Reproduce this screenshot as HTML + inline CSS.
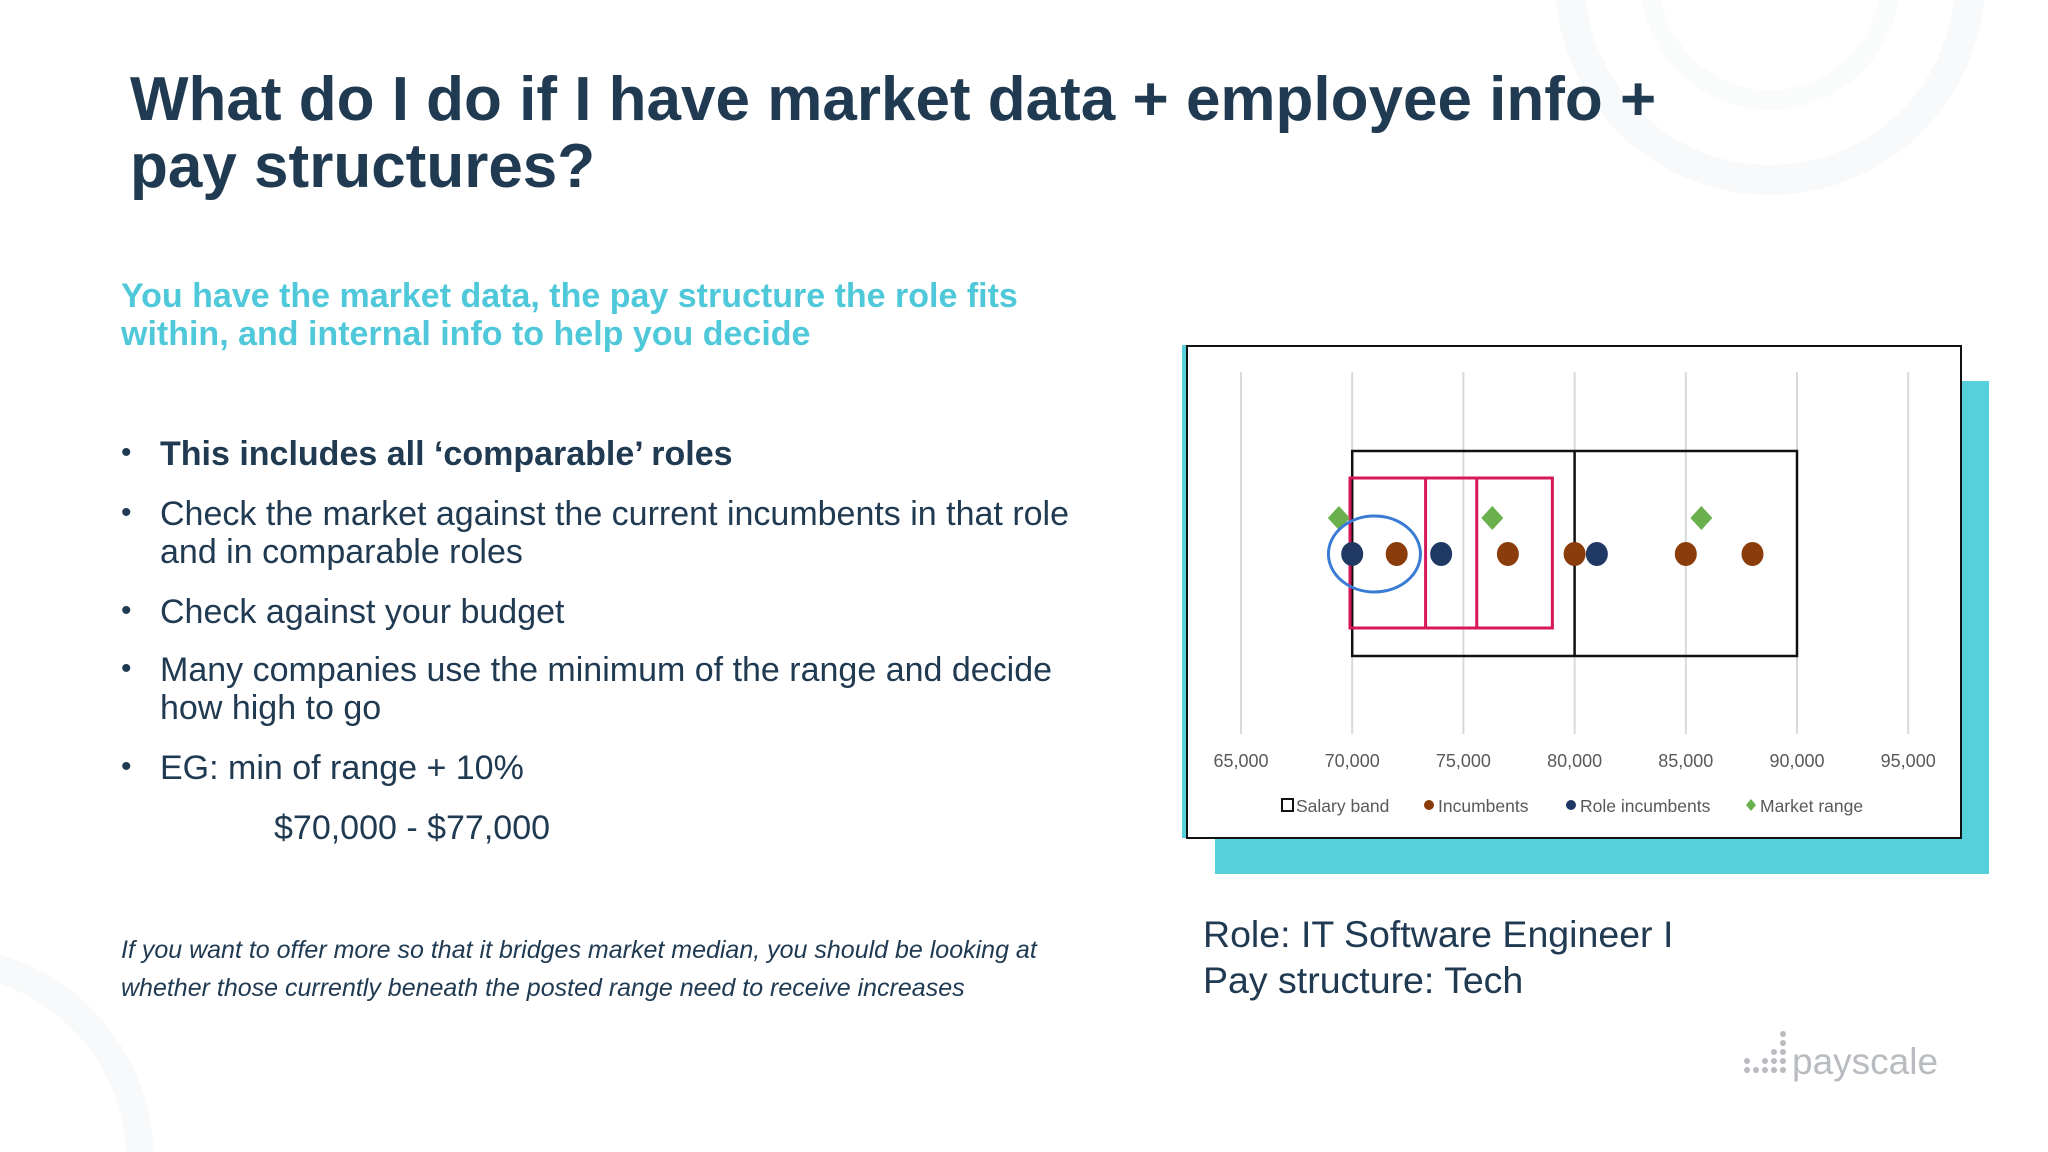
<!DOCTYPE html>
<html style="width:2048px;height:1152px;overflow:hidden"><head><meta charset="utf-8"><style>
body{margin:0;width:2048px;height:1152px;background:#fff;position:relative;overflow:hidden;font-family:"Liberation Sans",sans-serif;}
.abs{position:absolute;}
.title{left:130px;top:66px;font-size:62px;line-height:67px;font-weight:bold;color:#203a52;white-space:nowrap;}
.sub{left:121px;top:277px;font-size:34px;line-height:38px;font-weight:bold;color:#4fc8da;white-space:nowrap;}
.bl{font-size:34px;line-height:38px;color:#203a52;white-space:nowrap;}
.dot{left:121px;font-size:30px;color:#203a52;}
.note{left:121px;top:931px;font-size:25px;line-height:38px;font-style:italic;color:#203a52;white-space:nowrap;}
.role{left:1203px;top:911px;font-size:37.5px;line-height:46px;color:#203a52;white-space:nowrap;}
</style></head><body>
<svg class="abs" style="left:0;top:0" width="2048" height="1152">
<circle cx="1770" cy="-20" r="200" fill="none" stroke="#f8f9fa" stroke-width="30"/>
<circle cx="1770" cy="-20" r="120" fill="none" stroke="#fafbfb" stroke-width="20"/>
<circle cx="-60" cy="1160" r="200" fill="none" stroke="#f8f9fa" stroke-width="28"/>
</svg>
<div class="abs title">What do I do if I have market data + employee info +<br>pay structures?</div>
<div class="abs sub">You have the market data, the pay structure the role fits<br>within, and internal info to help you decide</div>
<div>
<div class="abs dot" style="top:436px">•</div><div class="abs bl" style="left:160px;top:435px;font-weight:bold">This includes all ‘comparable’ roles</div>
<div class="abs dot" style="top:496px">•</div><div class="abs bl" style="left:160px;top:495px">Check the market against the current incumbents in that role<br>and in comparable roles</div>
<div class="abs dot" style="top:594px">•</div><div class="abs bl" style="left:160px;top:593px">Check against your budget</div>
<div class="abs dot" style="top:652px">•</div><div class="abs bl" style="left:160px;top:651px">Many companies use the minimum of the range and decide<br>how high to go</div>
<div class="abs dot" style="top:750px">•</div><div class="abs bl" style="left:160px;top:749px">EG: min of range + 10%</div>
<div class="abs bl" style="left:274px;top:809px">$70,000 - $77,000</div>
</div>
<div class="abs note">If you want to offer more so that it bridges market median, you should be looking at<br>whether those currently beneath the posted range need to receive increases</div>
<div class="abs role">Role: IT Software Engineer I<br>Pay structure: Tech</div>
<div class="abs" style="left:1742px;top:1030px;">
<svg width="210" height="60"><g fill="#b8bcc0">
<circle cx="5" cy="40" r="3"/><circle cx="14" cy="40" r="3"/><circle cx="23" cy="40" r="3"/><circle cx="32" cy="40" r="3"/><circle cx="41" cy="40" r="3"/>
<circle cx="5" cy="31" r="3"/><circle cx="23" cy="31" r="3"/><circle cx="32" cy="31" r="3"/><circle cx="41" cy="31" r="3"/>
<circle cx="32" cy="22" r="3"/><circle cx="41" cy="22" r="3"/><circle cx="41" cy="13" r="3"/><circle cx="41" cy="4" r="3"/></g>
<text x="50" y="44" font-family="Liberation Sans,sans-serif" font-size="37" fill="#b8bcc0">payscale</text></svg></div>
<div class="abs" style="left:1215px;top:381px;width:774px;height:493px;background:#56d1dc"></div>
<div class="abs" style="left:1182px;top:345px;width:4px;height:493px;background:#56d1dc"></div>
<svg id="chart" class="abs" style="left:1186px;top:345px" width="776" height="494"></svg>
<script>
const ticks=[65000,70000,75000,80000,85000,90000,95000];
const band=[70000,80000,90000];
const marketBox=[69900,73300,75600,79000];
const incumbents=[72000,77000,80000,85000,88000];
const roleIncumbents=[70000,74000,81000];
const marketRange=[69400,76300,85700];
const highlight=[71000];
const NS="http://www.w3.org/2000/svg";
const svg=document.getElementById('chart');
const X=v=>55+(v-65000)/5000*111.2;
function mk(t,a){const e=document.createElementNS(NS,t);for(const k in a)e.setAttribute(k,a[k]);svg.appendChild(e);return e;}
const fr=mk('rect',{x:1,y:1,width:774,height:492,fill:'#fff',stroke:'#111',"stroke-width":2});


ticks.forEach(t=>{
 const l=mk('line',{x1:X(t),x2:X(t),y1:27,y2:389,stroke:'#d9d9d9',"stroke-width":2});
 
 
 const tx=mk('text',{x:X(t),y:422,"text-anchor":"middle","font-size":18,fill:'#595959',"font-family":"Liberation Sans,sans-serif"});
 tx.textContent=t.toLocaleString('en-US');
 
 
});
const b=mk('rect',{x:X(band[0]),y:106,width:X(band[2])-X(band[0]),height:205,fill:'none',stroke:'#111',"stroke-width":2.5});


const bm=mk('line',{x1:X(band[1]),x2:X(band[1]),y1:106,y2:311,stroke:'#111',"stroke-width":2.5});


const mb=mk('rect',{x:X(marketBox[0]),y:133,width:X(marketBox[3])-X(marketBox[0]),height:150,fill:'none',stroke:'#d6175a',"stroke-width":3});


[marketBox[1],marketBox[2]].forEach(v=>{const l=mk('line',{x1:X(v),x2:X(v),y1:133,y2:283,stroke:'#d6175a',"stroke-width":3});
 
 });
marketRange.forEach(v=>{const d=mk('polygon',{points:`${X(v)},${161} ${X(v)+11},${173} ${X(v)},${185} ${X(v)-11},${173}`,fill:'#6ab04c'});
 
 });
incumbents.forEach(v=>{const c=mk('ellipse',{cx:X(v),cy:209,rx:11,ry:12,fill:'#8b3c0b'});
 
 });
roleIncumbents.forEach(v=>{const c=mk('ellipse',{cx:X(v),cy:209,rx:11,ry:12,fill:'#1f3864'});
 
 });
highlight.forEach(v=>{const c=mk('ellipse',{cx:X(v),cy:209,rx:46,ry:38,fill:'none',stroke:'#3a7bd5',"stroke-width":3});
 
 });
const lg=[['sq','Salary band',96],['inc','Incumbents',238],['role','Role incumbents',380],['dia','Market range',560]];
lg.forEach(([k,t,x])=>{
 if(k==='sq'){const r=mk('rect',{x:x,y:454,width:11,height:12,fill:'none',stroke:'#111',"stroke-width":2});}
 else if(k==='dia'){const p=mk('polygon',{points:`${x+5},454 ${x+10},460 ${x+5},466 ${x},460`,fill:'#6ab04c'});}
 else{const c=mk('circle',{cx:x+5,cy:460,r:5,fill:k==='inc'?'#8b3c0b':'#1f3864'});}
 const tx=mk('text',{x:x+14,y:467,"font-size":17.5,fill:'#595959',"font-family":"Liberation Sans,sans-serif"});
 tx.textContent=t;
 
 
});
</script>
</body></html>
